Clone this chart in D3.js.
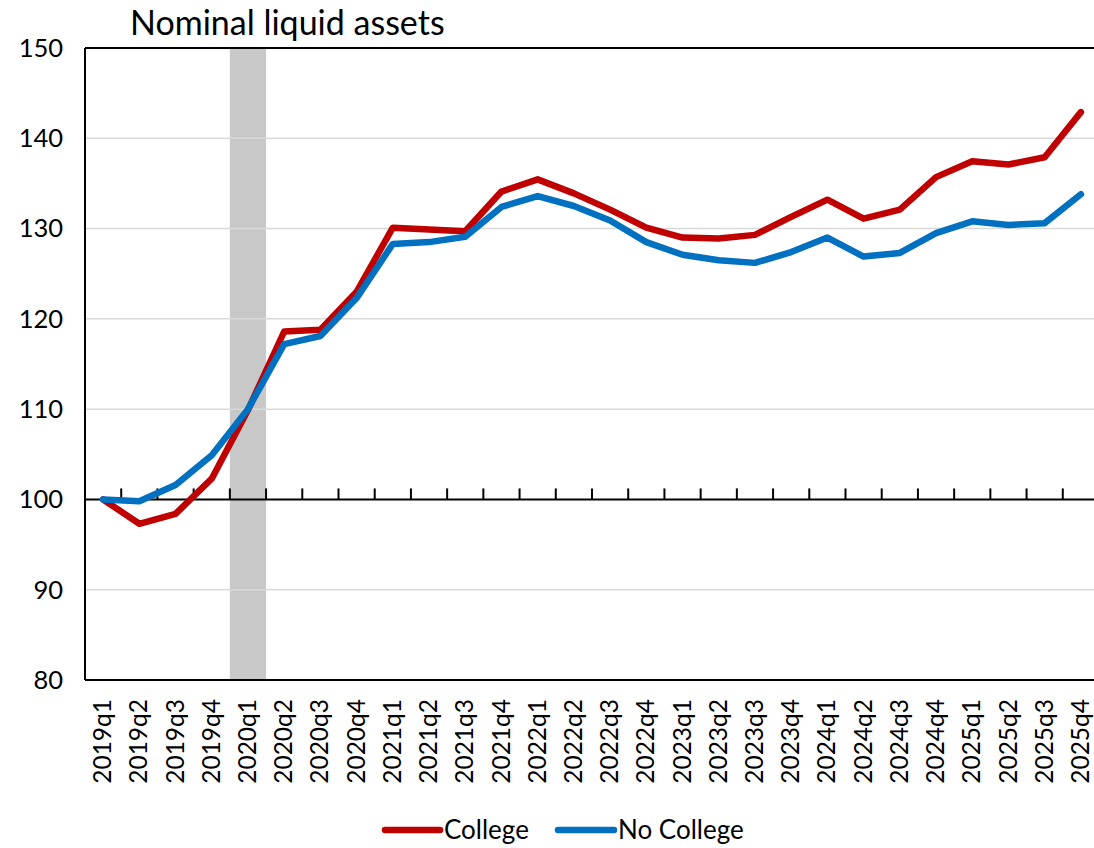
<!DOCTYPE html>
<html><head><meta charset="utf-8">
<script src="https://cdn.jsdelivr.net/npm/d3@7"></script>
<style>body{margin:0;background:#fff}svg{display:block}text{font-family:Lato,"Open Sans",sans-serif;fill:#000}</style>
</head><body>
<script>
const categories = ["2019q1","2019q2","2019q3","2019q4","2020q1","2020q2","2020q3","2020q4","2021q1","2021q2","2021q3","2021q4","2022q1","2022q2","2022q3","2022q4","2023q1","2023q2","2023q3","2023q4","2024q1","2024q2","2024q3","2024q4","2025q1","2025q2","2025q3","2025q4"];
const college = [100,97.3,98.4,102.3,109.9,118.6,118.8,123.0,130.1,129.9,129.7,134.1,135.45,133.9,132.1,130.1,129.0,128.9,129.3,131.3,133.2,131.1,132.1,135.7,137.45,137.1,137.9,142.9];
const noCollege = [100,99.8,101.6,104.9,110.0,117.2,118.1,122.3,128.3,128.5,129.1,132.4,133.6,132.5,130.9,128.5,127.1,126.5,126.2,127.4,129.0,126.9,127.3,129.5,130.8,130.4,130.6,133.8];
const yTicks = [80,90,100,110,120,130,140,150];
const shaded = ["2020q1"];
const series = [{name:"College",values:college,color:"#C00000"},{name:"No College",values:noCollege,color:"#0070C0"}];

const W=1094,H=848, L=85, R=1099, T=48, B=680;
const svg=d3.select("body").append("svg").attr("width",W).attr("height",H);
const x=d3.scaleBand().domain(categories).range([L,R]);
const y=d3.scaleLinear().domain([80,150]).range([B,T]);

svg.selectAll("rect.shade").data(shaded).join("rect").attr("class","shade")
  .attr("x",d=>x(d)).attr("width",x.bandwidth()).attr("y",T).attr("height",B-T).attr("fill","#C8C8C8");

svg.selectAll("line.grid").data(yTicks.filter(v=>v!==80&&v!==150&&v!==100)).join("line").attr("class","grid")
  .attr("x1",L).attr("x2",R).attr("y1",d=>y(d)).attr("y2",d=>y(d)).attr("stroke","#D9D9D9").attr("stroke-width",1.5);

svg.append("line").attr("x1",L).attr("x2",R).attr("y1",T).attr("y2",T).attr("stroke","#000").attr("stroke-width",2);
svg.append("line").attr("x1",L).attr("x2",R).attr("y1",B).attr("y2",B).attr("stroke","#000").attr("stroke-width",2);
svg.append("line").attr("x1",L).attr("x2",L).attr("y1",T).attr("y2",B).attr("stroke","#000").attr("stroke-width",2);

svg.append("line").attr("x1",L).attr("x2",R).attr("y1",y(100)).attr("y2",y(100)).attr("stroke","#000").attr("stroke-width",2);
svg.selectAll("line.tk").data(categories).join("line").attr("class","tk")
  .attr("x1",d=>x(d)+x.bandwidth()).attr("x2",d=>x(d)+x.bandwidth())
  .attr("y1",y(100)).attr("y2",y(100)-11).attr("stroke","#000").attr("stroke-width",2);

svg.selectAll("text.yl").data(yTicks).join("text").attr("class","yl")
  .attr("x",63).attr("y",d=>y(d)).attr("dy","0.35em").attr("text-anchor","end").attr("font-size",25.5).text(d=>d);

svg.selectAll("text.xl").data(categories).join("text").attr("class","xl")
  .attr("transform",d=>`translate(${x(d)+x.bandwidth()/2},${B+19}) rotate(-90)`)
  .attr("text-anchor","end").attr("dy","0.33em").attr("font-size",24.5).text(d=>d);

const line=d3.line().x((d,i)=>x(categories[i])+x.bandwidth()/2).y(d=>y(d));
svg.selectAll("path.s").data(series).join("path").attr("class","s")
  .attr("d",d=>line(d.values)).attr("fill","none").attr("stroke",d=>d.color)
  .attr("stroke-width",6.5).attr("stroke-linejoin","round").attr("stroke-linecap","round");

svg.append("text").attr("x",130).attr("y",35).attr("font-size",34).text("Nominal liquid assets");

const lg=[{x1:385,x2:440,tx:444},{x1:558,x2:614,tx:618}];
series.forEach((s,i)=>{
  svg.append("line").attr("x1",lg[i].x1).attr("x2",lg[i].x2).attr("y1",830).attr("y2",830)
    .attr("stroke",s.color).attr("stroke-width",6.5).attr("stroke-linecap","round");
  svg.append("text").attr("x",lg[i].tx).attr("y",830).attr("dy","0.35em").attr("font-size",26).text(s.name);
});
</script>
</body></html>
